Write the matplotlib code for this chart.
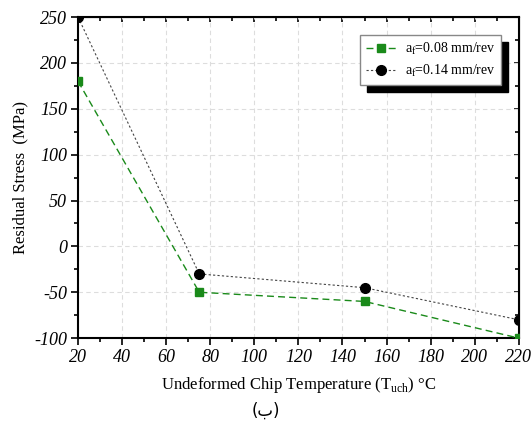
import matplotlib.pyplot as plt
from matplotlib.ticker import MultipleLocator

temps = [20, 75, 150, 220]
stress_008 = [180, -50, -60, -100]
stress_014 = [250, -30, -45, -80]
labels = ["a$_\\mathregular{f}$=0.08 mm/rev", "a$_\\mathregular{f}$=0.14 mm/rev"]

plt.rcParams['font.family'] = 'Liberation Serif'
plt.rcParams['mathtext.fontset'] = 'custom'
plt.rcParams['mathtext.rm'] = 'Liberation Serif'
plt.rcParams['axes.unicode_minus'] = False

fig = plt.figure(figsize=(5.31, 4.28), dpi=100)
ax = fig.add_axes([0.147, 0.21, 0.83, 0.75])

ax.plot(temps, stress_008, color='#1a8a1a', ls=(0, (5, 3)), lw=1.0,
        marker='s', ms=6, label=labels[0], zorder=3)
ax.plot(temps, stress_014, color='#444444', ls=(0, (2, 2)), lw=0.8,
        marker='o', ms=7, mfc='black', mec='black', label=labels[1], zorder=3)

ax.set_xlim(20, 220)
ax.set_ylim(-100, 250)
ax.xaxis.set_major_locator(MultipleLocator(20))
ax.xaxis.set_minor_locator(MultipleLocator(10))
ax.yaxis.set_major_locator(MultipleLocator(50))
ax.yaxis.set_minor_locator(MultipleLocator(25))
ax.grid(True, which='major', color='#dddddd', ls=(0, (4, 3)), lw=0.8)
ax.set_axisbelow(True)

# outer ticks on left/bottom, inner ticks on top/right
ax.tick_params(which='both', direction='out', width=1.2, labelsize=13, pad=3)
ax.tick_params(which='major', length=5)
ax.tick_params(which='minor', length=3)
sx = ax.secondary_xaxis('top')
sx.set_xticks(range(20, 221, 20))
sx.xaxis.set_minor_locator(MultipleLocator(10))
sx.tick_params(which='both', direction='in', labeltop=False, width=1.2)
sx.tick_params(which='minor', length=3)
sy = ax.secondary_yaxis('right')
sy.set_yticks(range(-100, 251, 50))
sy.yaxis.set_minor_locator(MultipleLocator(25))
sy.tick_params(which='both', direction='in', labelright=False, width=1.2)
sy.tick_params(which='minor', length=3)
for lab in ax.get_xticklabels() + ax.get_yticklabels():
    lab.set_fontstyle('italic')
for s in ax.spines.values():
    s.set_linewidth(1.5)

ax.set_xlabel("Undeformed Chip Temperature (T$_\\mathregular{uch}$) \u00b0C", fontsize=12, labelpad=6)
ax.set_ylabel("Residual Stress  (MPa)", fontsize=12, labelpad=4)

leg = ax.legend(loc='upper right', bbox_to_anchor=(0.975, 0.965), fontsize=10,
                fancybox=False, framealpha=1, edgecolor='#888888',
                shadow={'color': 'black', 'alpha': 1, 'ox': 5, 'oy': -5},
                handlelength=2.2, borderpad=0.4, labelspacing=0.4, handletextpad=0.6)

fig.text(0.5, 0.04, "(\u0628)", ha='center', va='center', fontsize=12, family=['DejaVu Sans'])

fig.savefig('out.png', dpi=100)
